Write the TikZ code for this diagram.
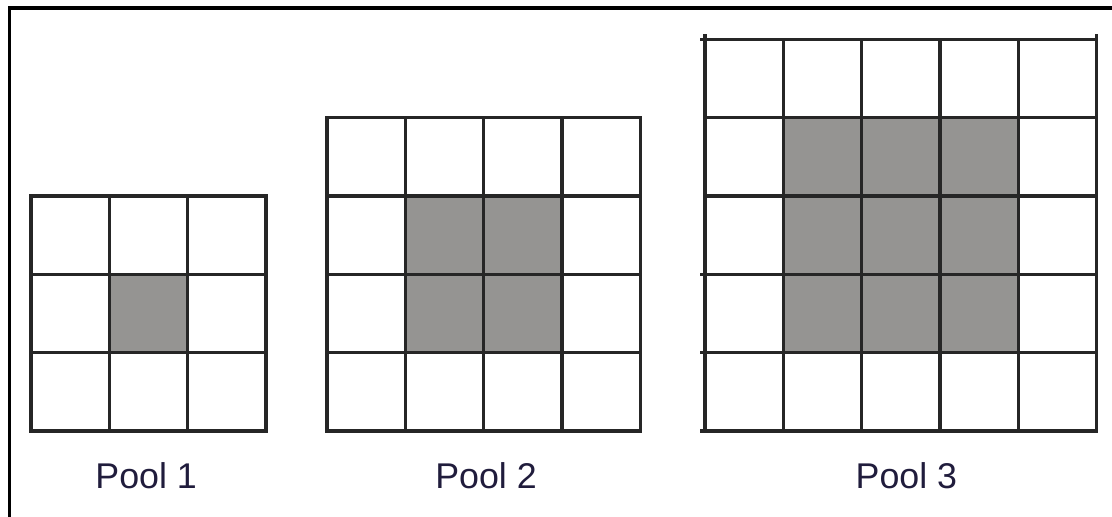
\documentclass[tikz,border=0pt]{standalone}
\usepackage{fontspec}
\setsansfont{Liberation Sans}
\usepackage{xcolor}
\usetikzlibrary{positioning,calc}
\definecolor{gridline}{RGB}{38,38,38}
\definecolor{poolgray}{RGB}{149,148,146}
\definecolor{pooltext}{RGB}{32,28,60}
\tikzstyle{none}=[inner sep=0mm]
\tikzstyle{pool cells}=[draw=gridline,line width=1.25pt,line cap=rect]
\tikzstyle{inner pool}=[fill=poolgray]
\tikzstyle{pool name}=[inner sep=0mm,anchor=base,text=pooltext,font=\sffamily\fontsize{13}{15}\selectfont]
\tikzstyle{frame}=[draw=black,line width=1.4pt]

\begin{document}
\begin{tikzpicture}
	\useasboundingbox (0,0) rectangle (14.2,6.6);
	\draw [style=frame] (0.121,0) -- (0.121,6.494) -- (14.2,6.494);
	\coordinate (p1) at (0.396,1.098);
	\coordinate (p2) at (4.176,1.098);
	\coordinate (p3) at (9.004,1.098);
	% pool 1: 3x3, one pooled cell
	\begin{scope}[shift={(p1)}]
		\fill [style=inner pool] (1,1) rectangle (2,2);
		\draw [style=pool cells] (0,0) grid (3,3);
	\end{scope}
	% pool 2: 4x4, 2x2 pooled
	\begin{scope}[shift={(p2)}]
		\fill [style=inner pool] (1,1) rectangle (3,3);
		\draw [style=pool cells] (0,0) grid (4,4);
	\end{scope}
	% pool 3: 5x5, 3x3 pooled
	\begin{scope}[shift={(p3)}]
		\fill [style=inner pool] (1,1) rectangle (4,4);
		\draw [style=pool cells] (0,0) grid (5,5);
		\foreach \r in {0,1,2,5}
			\draw [style=pool cells] (-0.04,\r) -- (0,\r);
		\foreach \c in {0,5}
			\draw [style=pool cells] (\c,5) -- (\c,5.04);
	\end{scope}
	\node [style=pool name] (name1) at ($(p1)+(1.47,-0.74)$) {Pool 1};
	\node [style=pool name] (name2) at ($(p2)+(2.03,-0.74)$) {Pool 2};
	\node [style=pool name] (name3) at ($(p3)+(2.57,-0.74)$) {Pool 3};
\end{tikzpicture}
\end{document}
